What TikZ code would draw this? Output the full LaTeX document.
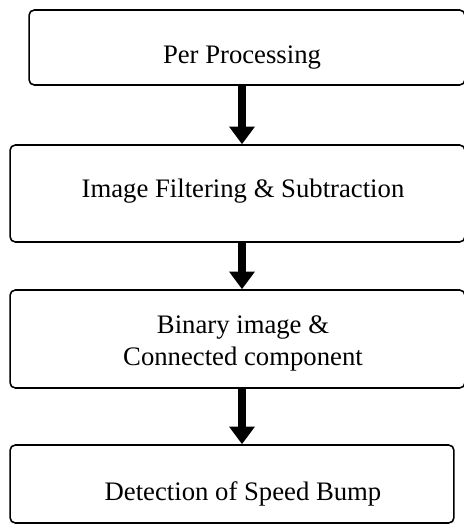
\documentclass[tikz,border=0pt]{standalone}
\usepackage{fontspec}
\setmainfont{Liberation Serif}
\usetikzlibrary{arrows.meta}

\tikzset{
	stage/.style={draw, rounded corners=3pt, line width=0.9pt, inner sep=0pt},
	caption/.style={font=\fontsize{15.2}{18.2}\selectfont, inner sep=0pt, align=center},
	flow/.style={line width=5pt, -{Triangle[width=14pt,length=10pt]}}
}

\begin{document}
\begin{tikzpicture}[x=0.02cm, y=-0.02cm]
		%%%%% START %%%%%
		
		\useasboundingbox (0, 0) rectangle (464, 525);
		
		\node[stage, minimum width=8.72cm, minimum height=1.5cm] (b1) at (247, 47.5) {};
		\node[stage, minimum width=9.1cm, minimum height=1.94cm] (b2) at (237.5, 193.5) {};
		\node[stage, minimum width=9.1cm, minimum height=1.96cm] (b3) at (237.5, 339) {};
		\node[stage, minimum width=8.88cm, minimum height=1.56cm] (b4) at (232, 484) {};
		
		\node[caption, anchor=base] (t1) at (242, 63) {Per Processing};
		\node[caption, anchor=base] (t2) at (243, 197) {Image Filtering \& Subtraction};
		\node[caption] (t3) at (243, 343) {Binary image \&\\ Connected component};
		\node[caption, anchor=base] (t4) at (243, 500) {Detection of Speed Bump};
		
		\draw[flow] (b1.south -| t1) -- (b2.north -| t1);
		\draw[flow] (b2.south -| t1) -- (b3.north -| t1);
		\draw[flow] (b3.south -| t1) -- (b4.north -| t1);
		
		%%%%% END %%%%%
	\end{tikzpicture}
\end{document}
